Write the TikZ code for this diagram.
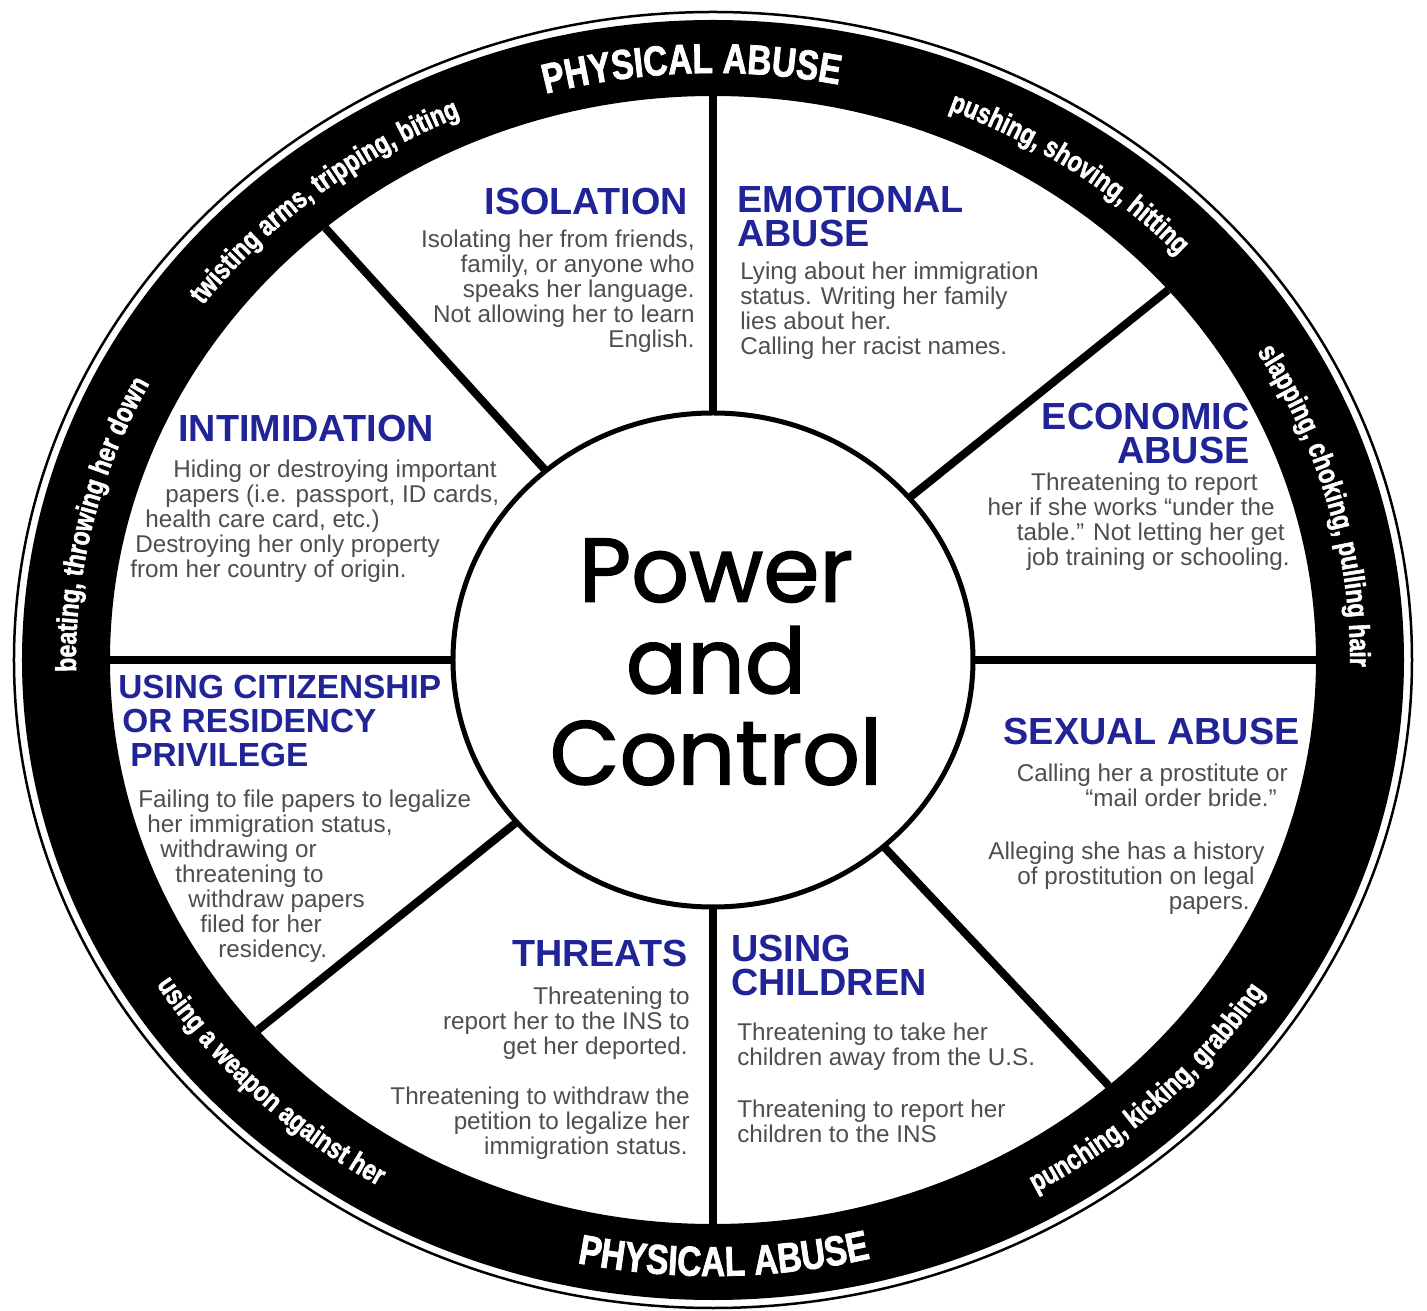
\documentclass[tikz,border=0pt]{standalone}
\usepackage{fontspec}
\usepackage{xcolor}
\usepackage{tikz}
\usetikzlibrary{decorations.text}
\setmainfont{Liberation Sans}
\newfontfamily\ringfamily[FakeStretch=0.8, FakeBold=1.8, UprightFont={* Bold}]{Liberation Sans}
\newfontfamily\corefamily[FakeBold=1.6]{Poppins}
\definecolor{headblue}{RGB}{32,36,150}
\definecolor{txtgray}{RGB}{78,78,78}
\newlength\pxu
\setlength\pxu{0.02cm}
\newcommand\lind[1]{\hspace*{#1\pxu}}
\newcommand\rind[1]{\hspace*{#1\pxu}\null}
\newcommand\ringbig{\ringfamily\fontsize{23.8}{24}\selectfont}
\newcommand\ringsmall{\ringfamily\fontsize{16.4}{17}\selectfont}

\begin{document}
\begin{tikzpicture}[x=0.02cm, y=0.02cm,
    spoke/.style={line width=8\pxu},
    head/.style={font=\fontsize{21.5}{19.3}\selectfont\bfseries, text=headblue, inner sep=0pt},
    body/.style={font=\fontsize{13.8}{14.2}\selectfont, text=txtgray, inner sep=0pt},
    ringtext/.style={decorate, decoration={text along path, text align=center, text color=white, text={#1}}}]
    % Frame
    \fill[white] (-713,-651) rectangle (714,660);
    \useasboundingbox (-713,-651) rectangle (714,660);

    % Rim
    \draw[line width=2.5\pxu] (0,0) ellipse [x radius=699, y radius=648];
    \fill[black, even odd rule] (0,0) ellipse [x radius=691, y radius=640]
        (0,0) ellipse [x radius=603, y radius=564];

    % Hub and spokes
    \draw[line width=5\pxu] (0,0) ellipse [x radius=260, y radius=247];
    \foreach \a in {90,41,0,311,270,221,180,130} {
        \coordinate (hub\a) at (\a:260 and 247);
        \coordinate (rim\a) at (\a:603 and 564);
        \draw[spoke] (hub\a) -- (rim\a);
    }

    % Rim texts
    \path[ringtext={|\ringbig|PHYSICAL ABUSE}] (137:632 and 587) arc[start angle=137, end angle=47, x radius=632, y radius=587];
    \path[ringtext={|\ringbig|PHYSICAL ABUSE}] (226:662 and 616) arc[start angle=226, end angle=316, x radius=662, y radius=616];
    \path[ringtext={|\ringsmall|pushing, shoving, hitting}] (95:637 and 592) arc[start angle=95, end angle=15, x radius=637, y radius=592];
    \path[ringtext={|\ringsmall|slapping, choking, pulling hair}] (55:637 and 592) arc[start angle=55, end angle=-25, x radius=637, y radius=592];
    \path[ringtext={|\ringsmall|twisting arms, tripping, biting}] (169:637 and 592) arc[start angle=169, end angle=89, x radius=637, y radius=592];
    \path[ringtext={|\ringsmall|beating, throwing her down}] (207:637 and 592) arc[start angle=207, end angle=127, x radius=637, y radius=592];
    \path[ringtext={|\ringsmall|using a weapon against her}] (185:657 and 611) arc[start angle=185, end angle=265, x radius=657, y radius=611];
    \path[ringtext={|\ringsmall|punching, kicking, grabbing}] (274:657 and 611) arc[start angle=274, end angle=354, x radius=657, y radius=611];

    % Centre
    \node[font=\corefamily\fontsize{51.5}{52}\selectfont, align=center, inner sep=0pt] (core) at (3,-2) {Power\\and\\Control};

    % Sections
    \node[head, anchor=north east] (isolation) at (-25,472) {ISOLATION};
    \node[body, anchor=north east, align=right] (isolation-text) at (-18,430)
        {Isolating her from friends,\\family, or anyone who\\speaks her language.\\Not allowing her to learn\\English.};

    \node[head, anchor=north west, align=left] (emotional) at (24,474) {EMOTIONAL\\ABUSE};
    \node[body, anchor=north west, align=left] (emotional-text) at (27,398)
        {Lying about her immigration\\status. Writing her family\\lies about her.\\Calling her racist names.};

    \node[head, anchor=north west] (intimidation) at (-535,245) {INTIMIDATION};
    \node[body, anchor=north west, align=left] (intimidation-text) at (-583,200)
        {\lind{43}Hiding or destroying important\\\lind{35}papers (i.e. passport, ID cards,\\\lind{15}health care card, etc.)\\\lind{5}Destroying her only property\\from her country of origin.};

    \node[head, anchor=north east, align=right] (economic) at (537,257) {ECONOMIC\\ABUSE};
    \node[body, anchor=north east, align=right] (economic-text) at (577,187)
        {Threatening to report\rind{32}\\her if she works “under the\rind{15}\\table.” Not letting her get\rind{5}\\job training or schooling.};

    \node[head, anchor=north east] (sexual) at (587,-58) {SEXUAL ABUSE};
    \node[body, anchor=north east, align=right] (sexual-text) at (575,-104)
        {Calling her a prostitute or\\“mail order bride.”\rind{11}\\[28\pxu]Alleging she has a history\rind{23}\\of prostitution on legal\rind{33}\\papers.\rind{38}};

    \node[head, font=\fontsize{19}{19.3}\selectfont\bfseries, anchor=north west, align=left] (citizenship) at (-595,-15)
        {USING CITIZENSHIP\\\lind{4}OR RESIDENCY\\\lind{12}PRIVILEGE};
    \node[body, anchor=north west, align=left] (citizenship-text) at (-575,-130)
        {Failing to file papers to legalize\\\lind{9}her immigration status,\\\lind{22}withdrawing or\\\lind{37}threatening to\\\lind{50}withdraw papers\\\lind{62}filed for her\\\lind{80}residency.};

    \node[head, anchor=north east] (threats) at (-25,-280) {THREATS};
    \node[body, anchor=north east, align=right] (threats-text) at (-23,-327)
        {Threatening to\\report her to the INS to\\get her deported.\rind{2}\\[25\pxu]Threatening to withdraw the\\petition to legalize her\\immigration status.\rind{2}};

    \node[head, anchor=north west, align=left] (children) at (18,-275) {USING\\CHILDREN};
    \node[body, anchor=north west, align=left] (children-text) at (24,-363)
        {Threatening to take her\\children away from the U.S.\\[27\pxu]Threatening to report her\\children to the INS};
\end{tikzpicture}
\end{document}
